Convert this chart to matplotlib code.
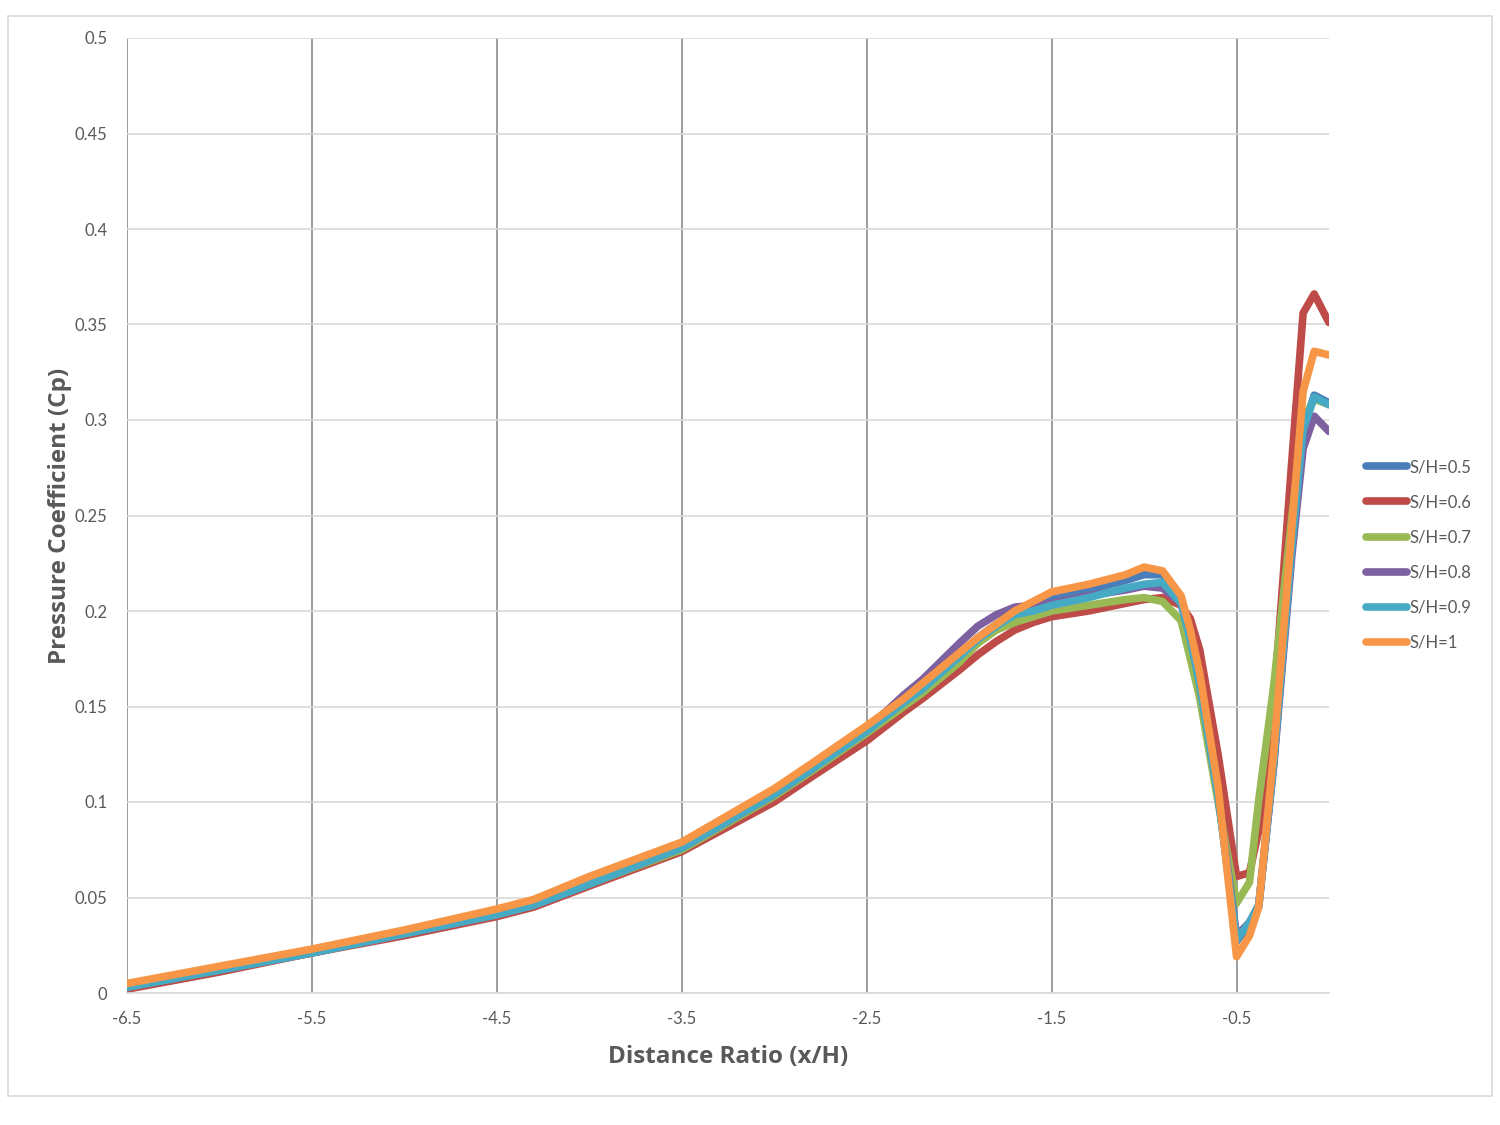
import numpy as np
import matplotlib.pyplot as plt
from matplotlib.patches import Rectangle

# distance ratio samples (shared by every series)
x_ratio = [-6.5, -6.0, -5.5, -5.0, -4.5, -4.3, -4.0, -3.5, -3.0, -2.8, -2.5, -2.3, -2.2, -2.0, -1.9,
           -1.8, -1.7, -1.6, -1.5, -1.3, -1.1, -1.0, -0.9, -0.8, -0.75, -0.7, -0.6, -0.5, -0.43,
           -0.38, -0.3, -0.2, -0.14, -0.08, 0.0]

cp_05 = [0.003, 0.012, 0.021, 0.031, 0.041, 0.046, 0.057, 0.076, 0.104, 0.117, 0.137, 0.152, 0.159,
         0.176, 0.186, 0.193, 0.199, 0.202, 0.206, 0.211, 0.216, 0.219, 0.219, 0.207, 0.188, 0.165,
         0.105, 0.027, 0.036, 0.045, 0.12, 0.235, 0.295, 0.313, 0.309]
cp_06 = [0.002, 0.011, 0.021, 0.030, 0.040, 0.045, 0.056, 0.074, 0.100, 0.113, 0.132, 0.147, 0.154,
         0.169, 0.177, 0.184, 0.190, 0.194, 0.197, 0.200, 0.204, 0.206, 0.207, 0.203, 0.196, 0.180,
         0.125, 0.061, 0.063, 0.085, 0.15, 0.28, 0.356, 0.366, 0.351]
cp_07 = [0.003, 0.012, 0.021, 0.031, 0.041, 0.046, 0.057, 0.075, 0.103, 0.116, 0.136, 0.150, 0.157,
         0.173, 0.183, 0.190, 0.194, 0.197, 0.200, 0.203, 0.206, 0.207, 0.205, 0.195, 0.175, 0.155,
         0.100, 0.047, 0.058, 0.101, 0.16, 0.25, 0.30, 0.311, 0.308]
cp_08 = [0.003, 0.012, 0.021, 0.031, 0.041, 0.046, 0.057, 0.076, 0.104, 0.117, 0.138, 0.156, 0.164,
         0.183, 0.192, 0.198, 0.202, 0.203, 0.204, 0.208, 0.211, 0.213, 0.212, 0.204, 0.186, 0.163,
         0.104, 0.030, 0.037, 0.046, 0.118, 0.23, 0.285, 0.302, 0.294]
cp_09 = [0.003, 0.012, 0.021, 0.031, 0.041, 0.046, 0.057, 0.076, 0.104, 0.117, 0.137, 0.152, 0.159,
         0.176, 0.185, 0.192, 0.198, 0.200, 0.203, 0.207, 0.212, 0.214, 0.215, 0.204, 0.185, 0.162,
         0.103, 0.028, 0.037, 0.046, 0.12, 0.235, 0.295, 0.312, 0.308]
cp_10 = [0.005, 0.014, 0.023, 0.033, 0.044, 0.049, 0.061, 0.079, 0.107, 0.120, 0.140, 0.154, 0.162,
         0.178, 0.186, 0.193, 0.200, 0.205, 0.210, 0.214, 0.219, 0.223, 0.221, 0.208, 0.190, 0.168,
         0.108, 0.019, 0.030, 0.045, 0.125, 0.245, 0.315, 0.336, 0.334]

labels = ['S/H=0.5', 'S/H=0.6', 'S/H=0.7', 'S/H=0.8', 'S/H=0.9', 'S/H=1']
colors = ['#4A7EBB', '#BE4B48', '#98B954', '#7D60A0', '#46AAC5', '#F79646']
series = [cp_05, cp_06, cp_07, cp_08, cp_09, cp_10]

plt.rcParams['font.family'] = ['Lato', 'DejaVu Sans']
txt = '#595959'

fig = plt.figure(figsize=(15, 11.25), dpi=100)
ax = fig.add_axes([127 / 1500, 1 - 993 / 1125, (1329 - 127) / 1500, (993 - 38) / 1125])

# outer chart border
fig.patches.append(Rectangle((8 / 1500, 1 - 1096 / 1125), 1484 / 1500, 1080 / 1125,
                             transform=fig.transFigure, fill=False, edgecolor='#D9D9D9', lw=1.2))

for y, c, lab in zip(series, colors, labels):
    ax.plot(x_ratio, y, color=c, lw=5.5, label=lab, solid_capstyle='round', solid_joinstyle='round')

ax.set_xlim(-6.5, 0)
ax.set_ylim(0, 0.5)
ax.set_xticks(np.arange(-6.5, 0, 1.0))
ax.set_xticklabels(['-6.5', '-5.5', '-4.5', '-3.5', '-2.5', '-1.5', '-0.5'])
ax.set_yticks(np.arange(0, 0.501, 0.05))
ax.set_yticklabels(['0', '0.05', '0.1', '0.15', '0.2', '0.25', '0.3', '0.35', '0.4', '0.45', '0.5'])

ax.set_axisbelow(True)
ax.grid(axis='y', color='#D9D9D9', lw=1.2)
ax.grid(axis='x', color='#8C8C8C', lw=1.2)
ax.tick_params(length=0, labelsize=12, labelcolor=txt)
ax.tick_params(axis='x', pad=13)
ax.tick_params(axis='y', pad=14)
for s in ['top', 'right', 'left']:
    ax.spines[s].set_visible(False)
ax.spines['bottom'].set_color('#D9D9D9')
ax.spines['bottom'].set_linewidth(1.2)

title_font = dict(family=['Open Sans', 'DejaVu Sans'], fontsize=17.5, fontweight='bold', color=txt)
ax.set_xlabel('Distance Ratio (x/H)', labelpad=13, **title_font)
ax.set_ylabel('Pressure Coefficient (Cp)', labelpad=2, **title_font)

leg = ax.legend(loc='center left', bbox_to_anchor=(1.025, 0.4586), frameon=False, fontsize=12,
                handlelength=2.5, handletextpad=0.15, labelspacing=1.15, borderaxespad=0)
for t in leg.get_texts():
    t.set_color(txt)

fig.savefig('out.png', dpi=100)
